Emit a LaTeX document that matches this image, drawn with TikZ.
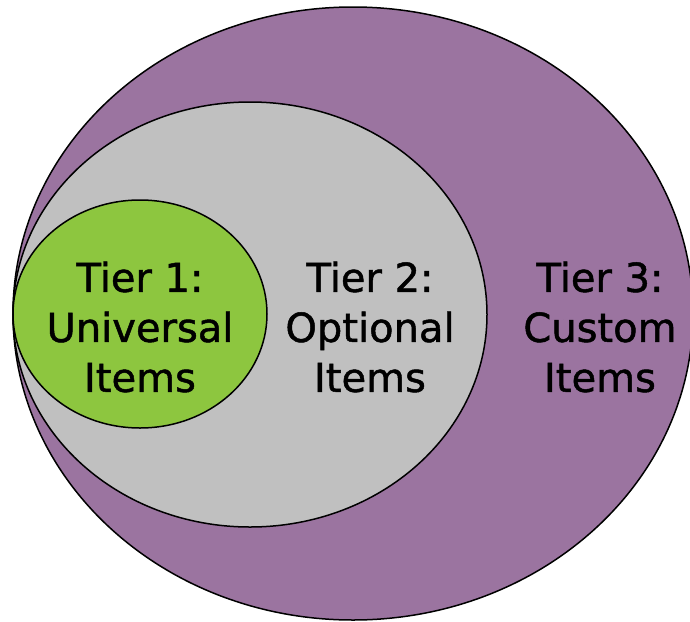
\documentclass[tikz,border=0pt]{standalone}
\usepackage{fontspec}
\setmainfont{DejaVu Sans}
\newfontfamily\tierfont{DejaVu Sans}[UprightFeatures={FakeBold=1.2}]
\usetikzlibrary{shapes.geometric}
\definecolor{tierpurple}{RGB}{155,116,160}
\definecolor{tiergray}{RGB}{192,192,192}
\definecolor{tiergreen}{RGB}{141,198,63}
\begin{document}
\begin{tikzpicture}[x=1pt,y=-1pt,
  tier/.style={ellipse, draw=black, line width=1.5pt, inner sep=0pt},
  tiertext/.style={font=\tierfont\fontsize{40}{50}\selectfont, align=center, text=black, inner sep=0pt}]
\useasboundingbox (0,0) rectangle (690,621);
\node[tier, fill=tierpurple, minimum width=680pt, minimum height=613pt] (t3) at (353,313.5) {};
\node[tier, fill=tiergray, minimum width=474pt, minimum height=425pt] (t2) at (250,314.5) {};
\node[tier, fill=tiergreen, minimum width=254pt, minimum height=228pt] (t1) at (140,314) {};
\node[tiertext] (l1) at (140,327) {Tier 1:\\Universal\\Items};
\node[tiertext] (l2) at (370,327) {Tier 2:\\Optional\\Items};
\node[tiertext] (l3) at (600,327) {Tier 3:\\Custom\\Items};
\end{tikzpicture}
\end{document}
